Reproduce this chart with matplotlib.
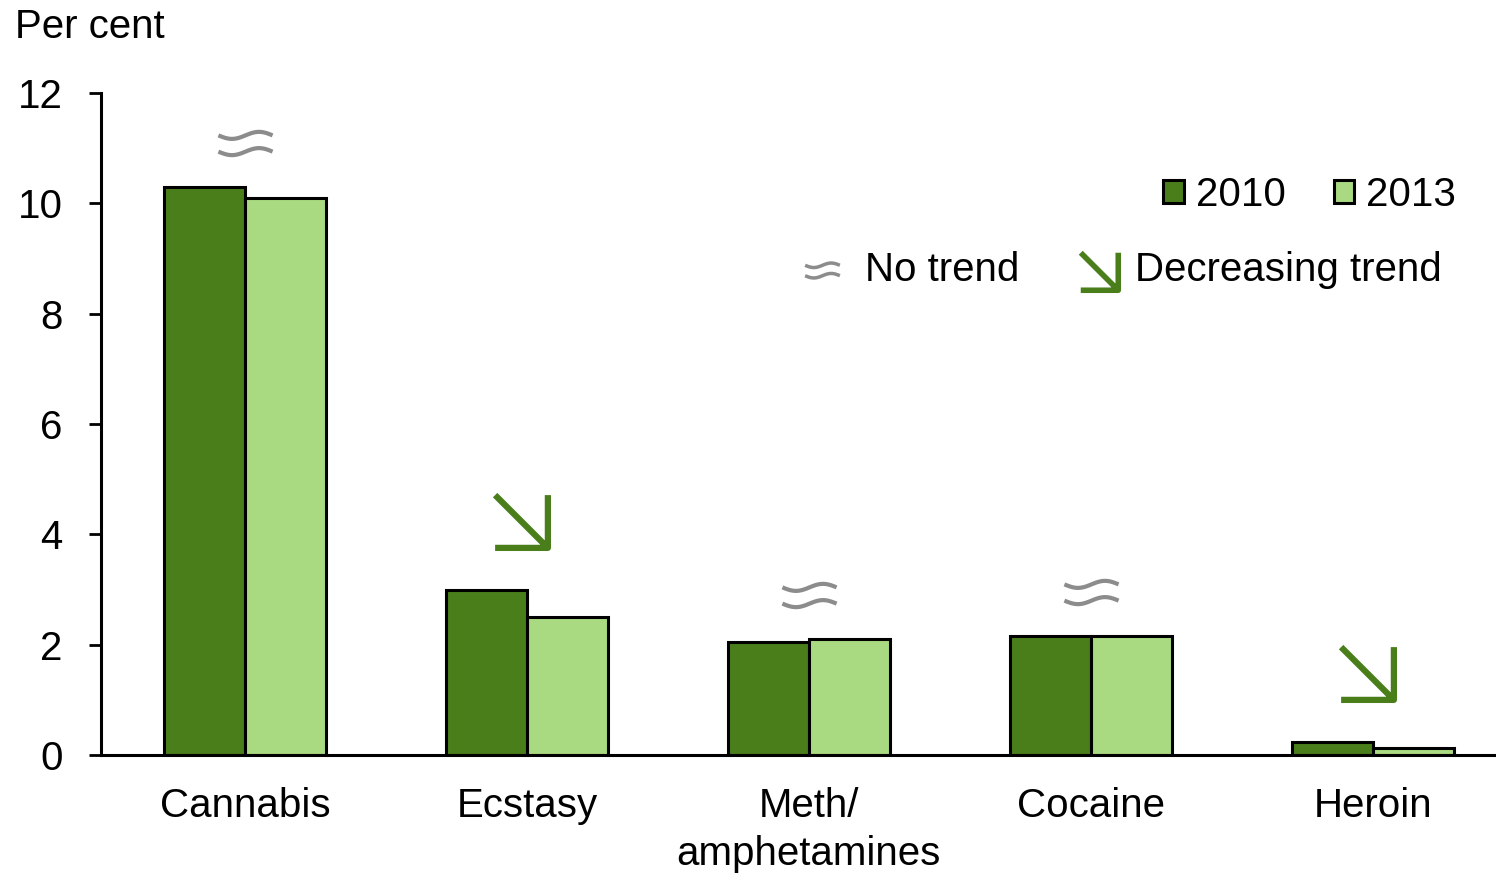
import matplotlib.pyplot as plt
from matplotlib.patches import Patch
from matplotlib.path import Path
import numpy as np

plt.rcParams['font.family'] = ['Liberation Sans', 'DejaVu Sans']

drugs = ['Cannabis', 'Ecstasy', 'Meth/\namphetamines', 'Cocaine', 'Heroin']
vals_2010 = [10.3, 3.0, 2.05, 2.15, 0.23]
vals_2013 = [10.1, 2.5, 2.1, 2.15, 0.12]
trend = ['none', 'down', 'none', 'none', 'down']

dark = '#4a7e1b'
light = '#a9d981'
grey = '#8c8c8c'

# marker shapes for the trend symbols
t = np.linspace(-1, 1, 30)
wave = 0.13 * np.sin(np.pi * t)
verts = list(zip(t, wave + 0.3)) + list(zip(t, wave - 0.3))
codes = [Path.MOVETO] + [Path.LINETO] * 29 + [Path.MOVETO] + [Path.LINETO] * 29
approx_mark = Path(verts, codes)
arrow_mark = Path([(-1, 1), (1, -1), (1, 1), (1, -1), (-1, -1)],
                  [Path.MOVETO, Path.LINETO, Path.MOVETO, Path.LINETO, Path.LINETO])

fig = plt.figure(figsize=(14.96, 8.75), dpi=100)
ax = fig.add_axes([101 / 1496, 1 - 755 / 875, 1413 / 1496, 662 / 875])

x = np.arange(len(drugs))
w = 0.287
ax.bar(x - w / 2, vals_2010, w, color=dark, edgecolor='black', linewidth=2.2)
ax.bar(x + w / 2, vals_2013, w, color=light, edgecolor='black', linewidth=2.2)

for i, tr in enumerate(trend):
    top = max(vals_2010[i], vals_2013[i])
    if tr == 'none':
        ax.plot(x[i], top + 0.8, marker=approx_mark, markersize=39, color=grey,
                markeredgewidth=3, fillstyle='none', clip_on=False)
    else:
        ax.plot(x[i] - 0.02, top + 1.25, marker=arrow_mark, markersize=38, color=dark,
                markeredgewidth=4.5, fillstyle='none', clip_on=False)

ax.set_xlim(-0.51, 4.5)
ax.set_ylim(0, 12)
ax.set_yticks([0, 2, 4, 6, 8, 10, 12])
ax.set_xticks(x)
ax.set_xticklabels(drugs, linespacing=1.35)
ax.tick_params(axis='x', length=0, pad=23, labelsize=29)
ax.tick_params(axis='y', length=8.6, width=2, pad=19, labelsize=29, direction='out')
for s in ['top', 'right']:
    ax.spines[s].set_visible(False)
for s in ['left', 'bottom']:
    ax.spines[s].set_linewidth(2.2)

fig.text(15 / 1496, 1 - 27 / 875, 'Per cent', fontsize=29, va='center', ha='left')

handles = [Patch(facecolor=dark, edgecolor='black', linewidth=2.2, label='2010'),
           Patch(facecolor=light, edgecolor='black', linewidth=2.2, label='2013')]
fig.legend(handles=handles, ncol=2, frameon=False, fontsize=29,
           loc='center right', bbox_to_anchor=(1456 / 1496, 1 - 195 / 875),
           handlelength=0.5, handleheight=0.5, handletextpad=0.3,
           columnspacing=1.2, borderpad=0, borderaxespad=0)

ax.plot(822 / 1496, 1 - 270 / 875, marker=approx_mark, markersize=25, color=grey,
        markeredgewidth=2.5, fillstyle='none', transform=fig.transFigure, clip_on=False)
fig.text(865 / 1496, 1 - 270 / 875, 'No trend', fontsize=29, va='center', ha='left')
ax.plot(1099 / 1496, 1 - 271 / 875, marker=arrow_mark, markersize=27, color=dark,
        markeredgewidth=4, fillstyle='none', transform=fig.transFigure, clip_on=False)
fig.text(1135 / 1496, 1 - 270 / 875, 'Decreasing trend', fontsize=29, va='center', ha='left')

fig.savefig('out.png', dpi=100)
